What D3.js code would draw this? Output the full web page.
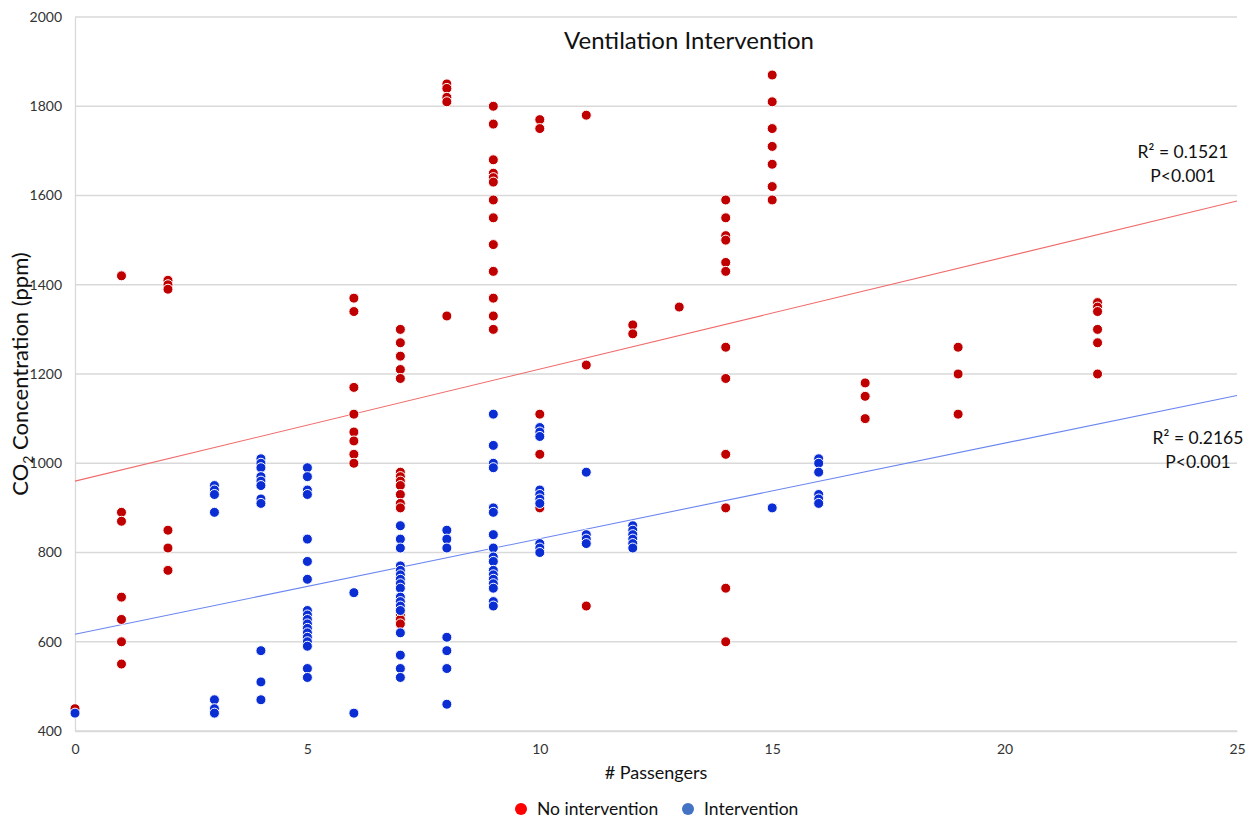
<!DOCTYPE html>
<html>
<head>
<meta charset="utf-8">
<script src="https://cdn.jsdelivr.net/npm/d3@7"></script>
<style>
  body { margin: 0; background: #fff; }
  text { font-family: Lato, "Open Sans", sans-serif; }
</style>
</head>
<body>
<div id="chart-area"></div>
<script>
// readings per passenger count, CO2 in ppm
const noIntervention = [
	[0, [450]],
	[1, [1420, 890, 870, 700, 650, 600, 550]],
	[2, [1410, 1400, 1390, 850, 810, 760]],
	[6, [1370, 1340, 1170, 1110, 1070, 1050, 1020, 1000]],
	[7, [1300, 1270, 1240, 1210, 1190, 980, 970, 960, 950, 930, 910, 900, 660, 650, 640]],
	[8, [1850, 1840, 1820, 1810, 1330]],
	[9, [1800, 1760, 1680, 1650, 1640, 1630, 1590, 1550, 1490, 1430, 1370, 1330, 1300]],
	[10, [1770, 1750, 1110, 1020, 900]],
	[11, [1780, 1220, 680]],
	[12, [1310, 1290]],
	[13, [1350]],
	[14, [1590, 1550, 1510, 1500, 1450, 1430, 1260, 1190, 1020, 900, 720, 600]],
	[15, [1870, 1810, 1750, 1710, 1670, 1620, 1590]],
	[17, [1180, 1150, 1100]],
	[19, [1260, 1200, 1110]],
	[22, [1360, 1350, 1340, 1300, 1270, 1200]]
];

const intervention = [
	[0, [440]],
	[3, [950, 940, 930, 890, 470, 450, 440]],
	[4, [1010, 1000, 990, 970, 960, 950, 920, 910, 580, 510, 470]],
	[5, [990, 970, 940, 930, 830, 780, 740, 670, 660, 650, 640, 630, 620, 610, 600, 590, 540, 520]],
	[6, [710, 440]],
	[7, [860, 830, 810, 770, 760, 750, 740, 730, 720, 700, 690, 680, 670, 620, 570, 540, 520]],
	[8, [850, 830, 810, 610, 580, 540, 460]],
	[9, [1110, 1040, 1000, 990, 900, 890, 840, 810, 790, 780, 760, 750, 740, 730, 720, 690, 680]],
	[10, [1080, 1070, 1060, 940, 930, 920, 910, 820, 810, 800]],
	[11, [980, 840, 830, 820]],
	[12, [860, 850, 840, 830, 820, 810]],
	[15, [900]],
	[16, [1010, 1000, 980, 930, 920, 910]]
];

// trend lines: [intercept, slope]
const trendNo = [960, 25.1];
const trendInt = [617, 21.4];

const yTicks = [400, 600, 800, 1000, 1200, 1400, 1600, 1800, 2000];
const xTicks = [0, 5, 10, 15, 20, 25];

const svg = d3.select("#chart-area")
	.append("svg")
		.attr("width", 1250)
		.attr("height", 820);

var x = d3.scaleLinear().domain([0, 25]).range([75, 1237]);
var y = d3.scaleLinear().domain([400, 2000]).range([731, 17]);

// gridlines
svg.append("g").selectAll("line")
	.data(yTicks)
	.enter().append("line")
		.attr("x1", x(0)).attr("x2", x(25))
		.attr("y1", d => y(d)).attr("y2", d => y(d))
		.attr("stroke", "#d9d9d9")
		.attr("stroke-width", 1.3);

// y-axis
var yAxis = svg.append("g")
	.attr("transform", "translate(" + x(0) + ",0)")
	.call(d3.axisLeft(y).tickValues(yTicks).tickSize(0).tickPadding(13).tickFormat(d3.format("d")));
yAxis.select(".domain").attr("stroke", "#d9d9d9").attr("stroke-width", 1.3);
yAxis.selectAll("text").attr("font-size", 14).attr("fill", "#333")
	.attr("font-family", "Lato, sans-serif");

// x-axis
var xAxis = svg.append("g")
	.attr("transform", "translate(0," + y(400) + ")")
	.call(d3.axisBottom(x).tickValues(xTicks).tickSize(0).tickPadding(13));
xAxis.select(".domain").attr("stroke", "#d9d9d9").attr("stroke-width", 1.3);
xAxis.selectAll("text").attr("font-size", 14).attr("fill", "#333")
	.attr("font-family", "Lato, sans-serif");

// trend lines
function trend(p, color) {
	svg.append("line")
		.attr("x1", x(0)).attr("y1", y(p[0]))
		.attr("x2", x(25)).attr("y2", y(p[0] + p[1] * 25))
		.attr("stroke", color)
		.attr("stroke-width", 1.1);
}
trend(trendNo, "#f06c6c");
trend(trendInt, "#6b86f0");

function flat(groups) {
	var out = [];
	groups.forEach(g => g[1].forEach(v => out.push({ n: g[0], ppm: v })));
	return out;
}

function dots(groups, color) {
	svg.append("g").selectAll("circle")
		.data(flat(groups))
		.enter().append("circle")
			.attr("cx", d => x(d.n))
			.attr("cy", d => y(d.ppm))
			.attr("r", 5)
			.attr("fill", color)
			.attr("stroke", "#fff")
			.attr("stroke-width", 1);
}
dots(noIntervention, "#c00000");
dots(intervention, "#0a2ed4");

// title
svg.append("text")
	.attr("x", 689).attr("y", 49)
	.attr("text-anchor", "middle")
	.attr("font-size", 24)
	.attr("fill", "#111")
	.text("Ventilation Intervention");

// y-label
var yl = svg.append("text")
	.attr("transform", "translate(28," + 374 + ") rotate(-90)")
	.attr("text-anchor", "middle")
	.attr("font-size", 22)
	.attr("fill", "#111");
yl.append("tspan").text("CO");
yl.append("tspan").attr("font-size", 14).attr("dy", 5).text("2");
yl.append("tspan").attr("dy", -5).text(" Concentration (ppm)");

// x-label
svg.append("text")
	.attr("x", 656).attr("y", 779)
	.attr("text-anchor", "middle")
	.attr("font-size", 18)
	.attr("fill", "#111")
	.text("# Passengers");

// R2 annotations
function note(cx, cy, lines) {
	lines.forEach((t, i) => {
		svg.append("text")
			.attr("x", cx).attr("y", cy + i * 24)
			.attr("text-anchor", "middle")
			.attr("font-size", 17.5)
			.attr("fill", "#111")
			.text(t);
	});
}
note(1183, 158, ["R\u00b2 = 0.1521", "P<0.001"]);
note(1198, 444, ["R\u00b2 = 0.2165", "P<0.001"]);

// legend
const legendNames = ["No intervention", "Intervention"];
const legendColors = ["#ff0000", "#4472c4"];
const legendX = [521, 688];
legendNames.forEach((name, i) => {
	svg.append("circle")
		.attr("cx", legendX[i]).attr("cy", 809)
		.attr("r", 6)
		.attr("fill", legendColors[i]);
	svg.append("text")
		.attr("x", legendX[i] + 16).attr("y", 815)
		.attr("font-size", 17.5)
		.attr("fill", "#111")
		.text(name);
});
</script>
</body>
</html>
